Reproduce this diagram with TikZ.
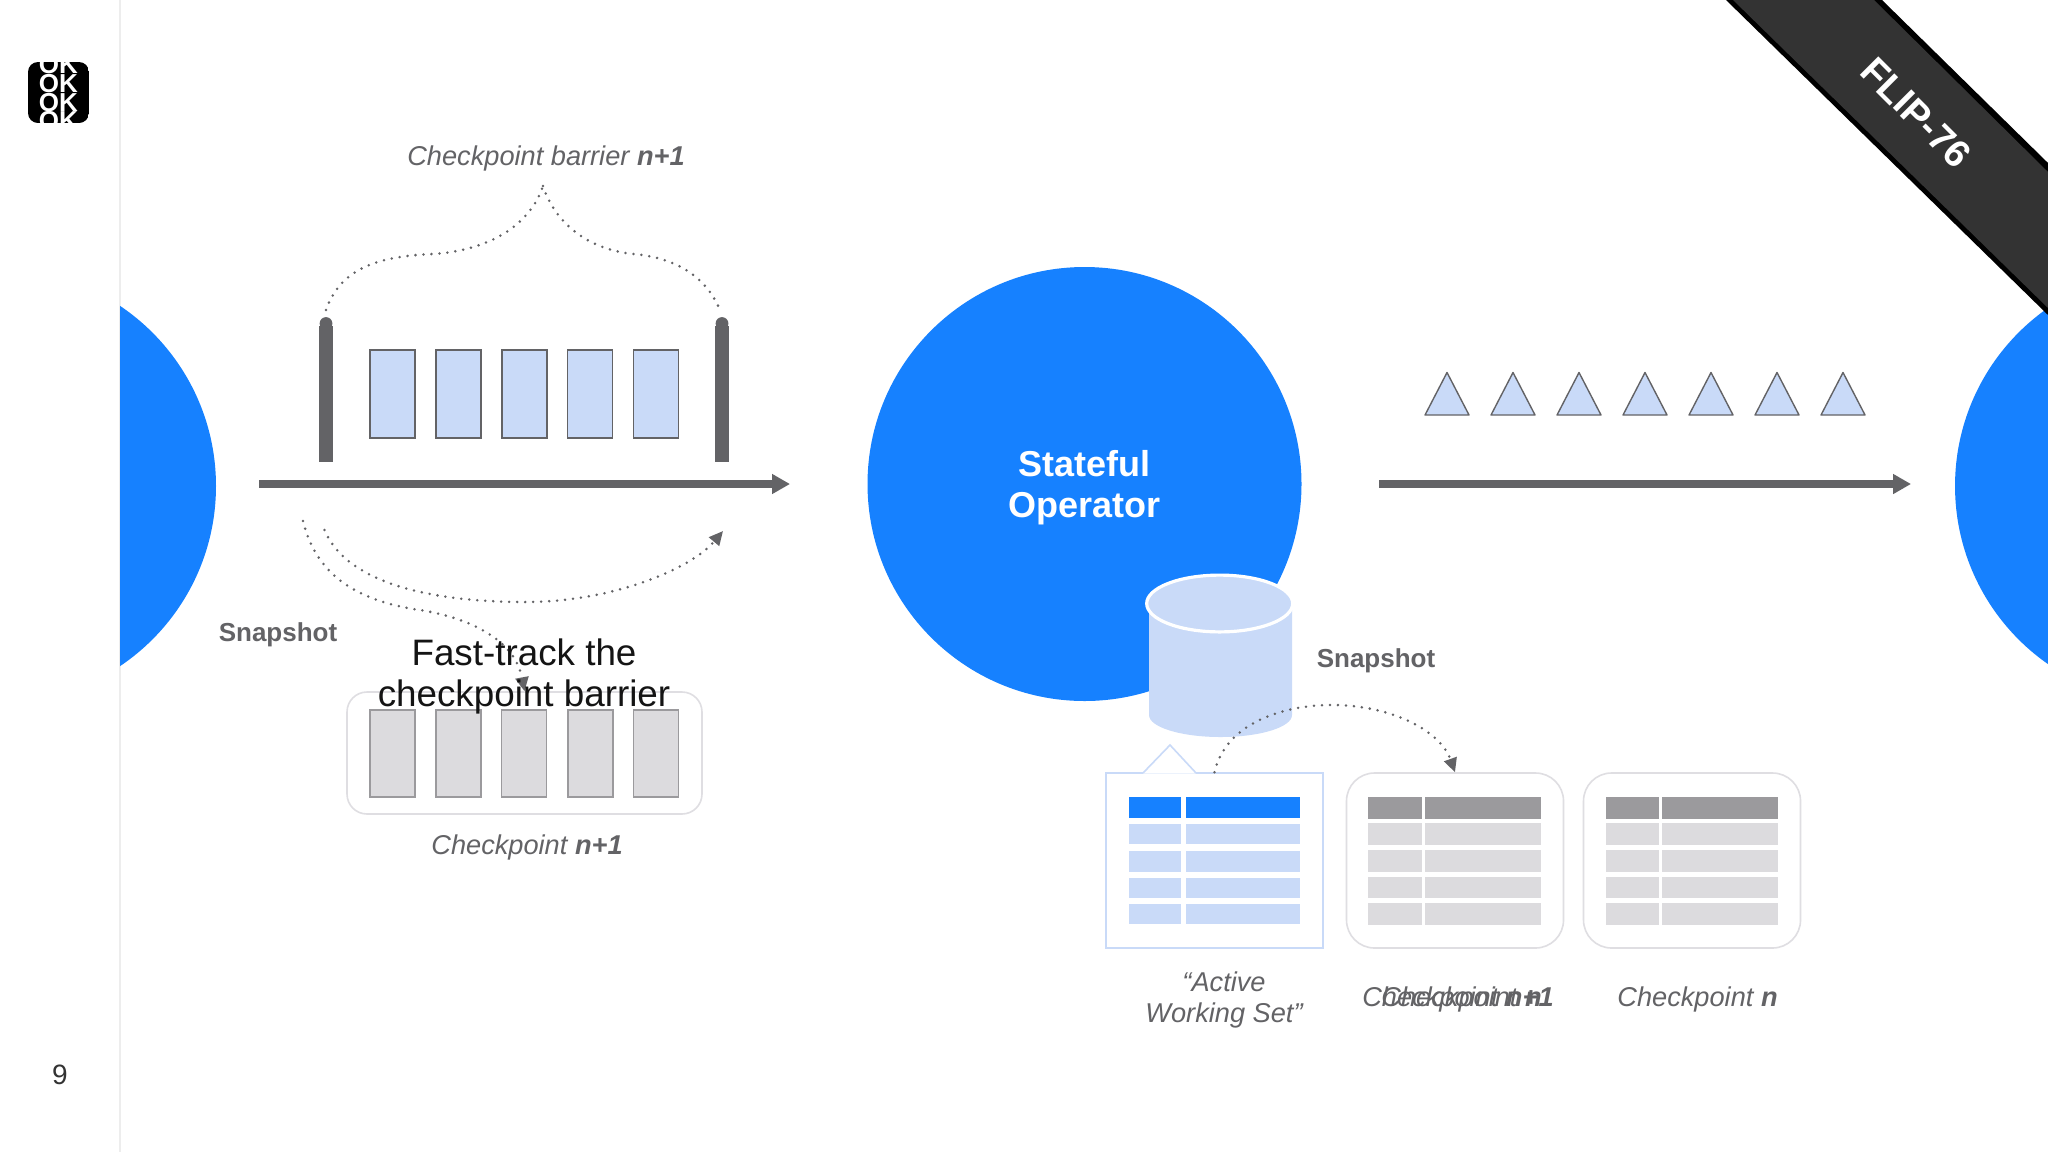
\documentclass[tikz,border=0pt]{standalone}
\usepackage{fontspec}
\setmainfont{Liberation Sans}
\usetikzlibrary{arrows.meta}
\definecolor{flink}{HTML}{1681FF}
\definecolor{paleblue}{HTML}{C9DAF8}
\definecolor{palegray}{HTML}{DCDBDE}
\definecolor{midgray}{HTML}{9B9A9D}
\definecolor{ink}{HTML}{636366}
\definecolor{softline}{HTML}{DFDEE2}
\definecolor{ribbon}{HTML}{333333}
\tikzset{
  x=0.5pt,y=-0.5pt,
  opcircle/.style={circle,fill=flink,inner sep=0pt,minimum size=217pt},
  flowline/.style={draw=ink,line width=3.8pt,-{Triangle[length=9pt,width=9.5pt]}},
  dotline/.style={draw=ink,line width=1.4pt,line cap=round,dash pattern=on 0pt off 4pt},
  dotarrow/.style={dotline,-{Triangle[length=7pt,width=6.5pt,fill=ink]}},
  barbar/.style={fill=ink,inner sep=0pt,minimum width=7pt,minimum height=68pt},
  bluerec/.style={draw=ink,line width=0.7pt,fill=paleblue,inner sep=0pt,minimum width=22.5pt,minimum height=44pt},
  grayrec/.style={draw=midgray,line width=0.7pt,fill=palegray,inner sep=0pt,minimum width=22.5pt,minimum height=43.5pt},
  softbox/.style={draw=softline,line width=0.8pt,fill=white,rounded corners=#1,inner sep=0pt},
  softbox/.default=10pt,
  cellbox/.style={inner sep=0pt,anchor=north west},
  snaplabel/.style={font=\fontsize{13}{15}\selectfont\bfseries,text=ink,inner sep=0pt},
  itlabel/.style={font=\fontsize{13.6}{16}\selectfont\itshape,text=ink,inner sep=0pt,align=center},
}
\newcommand{\tblcell}[6]{\node[cellbox,fill=#6,minimum width={(#4-#2)*0.5pt},minimum height={(#5-#3)*0.5pt}] (#1) at (#2,#3) {};}
\newcommand{\tblrows}[6]{%
  \foreach \ya/\yb/\rn in {823/845/r1,850/872/r2,877/898/r3,903/925/r4}{
    \tblcell{#1\rn a}{#2}{\ya}{#3}{\yb}{#6}
    \tblcell{#1\rn b}{#4}{\ya}{#5}{\yb}{#6}
  }}
\begin{document}
\begin{tikzpicture}
\useasboundingbox (0,0) rectangle (2048,1152);
\clip (0,0) rectangle (2048,1152);
\fill[white] (0,0) rectangle (2048,1152);

% sidebar
\draw[color=black!7,line width=0.6pt] (120,0) -- (120,1152);

% logo
\begin{scope}
  \clip[rounded corners=5pt] (28,62) rectangle (89,123);
  \fill[black] (28,62) rectangle (89,123);
  \foreach \yy/\nm in {65/a,84/b,103/c,121/d}
    \node[text=white,font=\fontsize{13}{13}\selectfont\bfseries,inner sep=0pt] (ok\nm) at (58.5,\yy) {OK};
\end{scope}
\node[font=\fontsize{14}{16}\selectfont,text=black!80,inner sep=0pt] (pagenum) at (60,1075) {9};

% operators
\begin{scope}
  \clip (120,0) rectangle (2048,1152);
  \node[opcircle] (opl) at (-1,486) {};
\end{scope}
\node[opcircle] (opr) at (2172,486) {};
\node[opcircle] (opm) at (1084.5,484) {};
\node[text=white,font=\fontsize{18}{20.5}\selectfont\bfseries,align=center,inner sep=0pt] (opmtext) at (1084.5,488) {Stateful\\Operator};

% ribbon
\fill[black] (1726,0) -- (1882,0) -- (2048,163) -- (2048,315) -- cycle;
\fill[ribbon] (1733,0) -- (1874,0) -- (2048,172) -- (2048,308) -- cycle;
\node[text=white,rotate=-45,font=\fontsize{19}{20}\selectfont\bfseries,inner sep=0pt] (flip) at (1916,113) {FLIP-76};

% top-left stream
\coordinate (a1s) at (259,484); \coordinate (a1e) at (790,484);
\draw[flowline] (a1s) -- (a1e);
\node[barbar] (barl) at (326,394) {};
\node[barbar] (barr) at (722,394) {};
\fill[ink] (326,323.5) circle[radius=3.2pt];
\fill[ink] (722,323.5) circle[radius=3.2pt];
\foreach \xx/\nm in {392.5/a,458.5/b,524.5/c,590/d,656/e}
  \node[bluerec] (blue\nm) at (\xx,394) {};

\coordinate (tl) at (326,310); \coordinate (tr) at (720,310); \coordinate (tt) at (543,186);
\draw[dotline] (tl) .. controls (340,270) and (375,256) .. (434,254) .. controls (490,250) and (530,225) .. (tt);
\draw[dotline] (tt) .. controls (556,225) and (590,250) .. (634,254) .. controls (675,258) and (705,275) .. (tr);
\node[itlabel] (lbarrier) at (546,158.5) {Checkpoint barrier \textbf{n+1}};

% under-stream curves
\coordinate (c1s) at (324.5,530); \coordinate (c1e) at (723,531);
\draw[dotarrow] (c1s) .. controls (350,590) and (450,602) .. (526,602) .. controls (610,602) and (690,570) .. (c1e);

\node[softbox=10pt,minimum width=177.5pt,minimum height=61pt] (cpbox) at (524.5,753) {};
\foreach \xx/\nm in {392.5/a,458.5/b,524/c,590.5/d,656/e}
  \node[grayrec] (gray\nm) at (\xx,753.5) {};
\coordinate (c2s) at (303,521);
\draw[dotarrow] (c2s) .. controls (315,570) and (350,600) .. (420,610) .. controls (470,618) and (515,640) .. (cpbox.north);
\node[snaplabel] (snapl) at (278,634.5) {Snapshot};
\node[font=\fontsize{18.4}{20.5}\selectfont,text=black!92,align=center,inner sep=0pt] (fast) at (524,676) {Fast-track the\\checkpoint barrier};
\node[itlabel] (lcp) at (527,847.5) {Checkpoint \textbf{n+1}};

% output stream
\coordinate (a2s) at (1379,484); \coordinate (a2e) at (1911,484);
\draw[flowline] (a2s) -- (a2e);
\foreach \xx in {1447,1513,1579,1645,1711,1777,1843}
  \draw[draw=ink,line width=0.7pt,fill=paleblue,line join=round] (\xx,372.5) -- (\xx+22,415) -- (\xx-22,415) -- cycle;

% state cylinder
\fill[paleblue] (1149,603) -- (1149,715) arc[start angle=180,end angle=360,x radius=35.75pt,y radius=11pt] -- (1292,603) -- cycle;
\draw[white,line width=1.6pt,fill=paleblue] (1219.7,603.5) ellipse[x radius=36.5pt,y radius=14.2pt];
\node[snaplabel] (snapr) at (1376,660.5) {Snapshot};

% tables
\node[draw=paleblue,line width=0.8pt,fill=white,inner sep=0pt,minimum width=108.5pt,minimum height=87.5pt] (act) at (1214.5,860.5) {};
\fill[white] (1143,773.5) -- (1170,745) -- (1196,773.5) -- cycle;
\draw[paleblue,line width=0.8pt] (1143,773) -- (1170,745) -- (1196,773);

\node[softbox=14pt,minimum width=108.5pt,minimum height=87.5pt] (ckb) at (1455,860.5) {};
\node[softbox=14pt,minimum width=108.5pt,minimum height=87.5pt] (cka) at (1692,860.5) {};

\tblcell{acthdra}{1129}{797}{1181}{818}{flink}
\tblcell{acthdrb}{1186}{797}{1300}{818}{flink}
\foreach \ya/\yb/\rn in {824/844/r1,851/872/r2,878/898/r3,904/924/r4}{
  \tblcell{act\rn a}{1129}{\ya}{1181}{\yb}{paleblue}
  \tblcell{act\rn b}{1186}{\ya}{1300}{\yb}{paleblue}
}
\tblcell{ckbhdra}{1368}{797}{1422}{819}{midgray}
\tblcell{ckbhdrb}{1425}{797}{1541}{819}{midgray}
\tblrows{ckb}{1368}{1422}{1425}{1541}{palegray}
\tblcell{ckahdra}{1605.5}{797}{1659}{819}{midgray}
\tblcell{ckahdrb}{1662}{797}{1778}{819}{midgray}
\tblrows{cka}{1605.5}{1659}{1662}{1778}{palegray}

\draw[dotarrow] (act.north) .. controls (1225,725) and (1280,705) .. (1332,705) .. controls (1390,705) and (1440,730) .. (ckb.north);

\node[itlabel,font=\fontsize{13.6}{15.5}\selectfont\itshape] (lact) at (1224,999.5) {“Active\\Working Set”};
\node[itlabel,anchor=west] (lcka) at (1381,999.5) {Checkpoint \textbf{n}};
\node[itlabel,anchor=east] (lckb) at (1554,999.5) {Checkpoint \textbf{n+1}};
\node[itlabel] (lckn) at (1697.5,999.5) {Checkpoint \textbf{n}};
\end{tikzpicture}
\end{document}
